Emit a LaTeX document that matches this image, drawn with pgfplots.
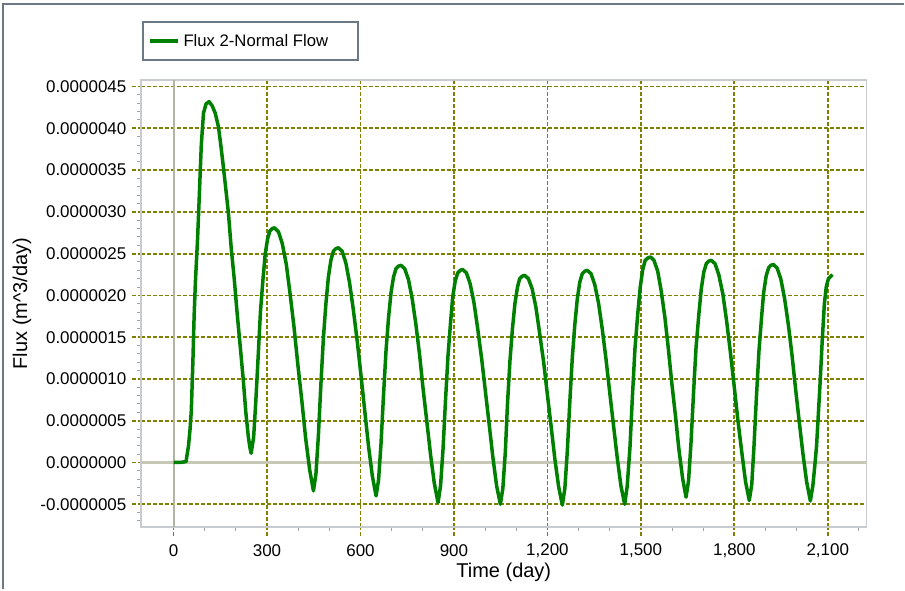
\documentclass[border=0pt]{standalone}
\usepackage{fontspec}
\setmainfont{Liberation Sans}
\usepackage{pgfplots}
\pgfplotsset{compat=1.18}
\usepackage{pgfplotstable}

\definecolor{fluxgreen}{RGB}{0,128,0}
\definecolor{gridolive}{RGB}{128,128,0}
\definecolor{framegray}{RGB}{108,120,132}
\definecolor{axisgray}{RGB}{200,204,208}
\definecolor{zerogray}{RGB}{200,200,182}

% time (day), flux (1e-6 m^3/day)
\pgfplotstableread{
t f
0 0
20 0
40 0.01
48 0.2
53 0.4
57 0.62
62 1.2
66 1.75
70 2.15
77 2.67
82 3.13
89 3.8
96 4.18
104 4.29
114 4.32
124 4.27
134 4.18
144 4.02
151 3.82
158 3.6
167 3.3
176 2.99
185 2.57
195 2.19
204 1.79
214 1.39
224 0.98
232 0.6
240 0.31
245 0.18
249 0.11
257 0.30
264 0.73
272 1.30
279 1.81
287 2.19
294 2.49
302 2.68
309 2.77
317 2.80
324 2.81
337 2.76
349 2.62
362 2.37
374 2.02
387 1.61
399 1.17
412 0.73
424 0.29
437 -0.09
449 -0.34
457 -0.14
465 0.33
473 0.94
481 1.49
489 1.90
497 2.22
505 2.42
513 2.53
521 2.56
529 2.57
541 2.53
553 2.39
565 2.15
577 1.83
590 1.44
602 1.03
614 0.61
626 0.19
638 -0.16
650 -0.40
658 -0.21
666 0.23
674 0.81
682 1.34
690 1.73
698 2.03
706 2.22
714 2.32
722 2.35
730 2.36
742 2.32
754 2.19
766 1.96
778 1.65
790 1.28
801 0.88
813 0.49
825 0.09
837 -0.25
849 -0.48
857 -0.28
865 0.16
873 0.75
881 1.28
889 1.67
896 1.98
904 2.17
912 2.27
920 2.30
928 2.31
940 2.27
952 2.14
964 1.92
976 1.61
989 1.24
1001 0.85
1013 0.46
1025 0.06
1037 -0.28
1049 -0.50
1057 -0.31
1065 0.13
1072 0.71
1080 1.23
1088 1.61
1096 1.91
1104 2.10
1111 2.20
1119 2.23
1127 2.24
1139 2.20
1151 2.08
1163 1.86
1175 1.55
1188 1.20
1200 0.81
1212 0.43
1224 0.04
1236 -0.29
1248 -0.51
1256 -0.31
1264 0.14
1272 0.73
1280 1.26
1288 1.65
1296 1.96
1304 2.16
1312 2.26
1320 2.29
1328 2.30
1340 2.26
1352 2.13
1364 1.91
1376 1.60
1388 1.24
1400 0.84
1412 0.45
1424 0.06
1436 -0.28
1448 -0.50
1456 -0.29
1465 0.18
1473 0.80
1481 1.36
1490 1.78
1498 2.10
1506 2.31
1514 2.42
1523 2.45
1531 2.46
1542 2.42
1554 2.29
1565 2.06
1577 1.74
1588 1.37
1599 0.96
1611 0.56
1622 0.16
1634 -0.19
1645 -0.415
1653 -0.22
1661 0.24
1669 0.83
1677 1.37
1686 1.77
1694 2.08
1702 2.28
1710 2.38
1718 2.41
1726 2.42
1738 2.38
1750 2.25
1763 2.02
1775 1.70
1787 1.33
1799 0.93
1811 0.52
1824 0.12
1836 -0.23
1848 -0.455
1856 -0.26
1863 0.19
1871 0.79
1879 1.33
1887 1.72
1894 2.03
1902 2.23
1910 2.33
1917 2.36
1925 2.37
1937 2.33
1949 2.20
1961 1.97
1973 1.66
1985 1.29
1996 0.90
2008 0.50
2020 0.11
2032 -0.23
2044 -0.46
2052 -0.28
2058 -0.05
2064 0.2
2070 0.6
2076 1.0
2082 1.45
2089 1.9
2095 2.1
2102 2.2
2115 2.25
}\fluxdata

\begin{document}
\begin{tikzpicture}
\begin{axis}[
    name=ax,
    scale only axis,
    width=726.7pt, height=447.7pt,
    xmin=-105, xmax=2225,
    ymin=-7.74e-7, ymax=4.58e-6,
    xtick={0,300,600,900,1200,1500,1800,2100},
    minor xtick={100,200,400,500,700,800,1000,1100,1300,1400,1600,1700,1900,2000,2200},
    ytick={-5e-7,0,5e-7,1e-6,1.5e-6,2e-6,2.5e-6,3e-6,3.5e-6,4e-6,4.5e-6},
    minor ytick={-7e-7,-6e-7,-4e-7,-3e-7,-2e-7,-1e-7,1e-7,2e-7,3e-7,4e-7,6e-7,7e-7,8e-7,9e-7,
      1.1e-6,1.2e-6,1.3e-6,1.4e-6,1.6e-6,1.7e-6,1.8e-6,1.9e-6,2.1e-6,2.2e-6,2.3e-6,2.4e-6,
      2.6e-6,2.7e-6,2.8e-6,2.9e-6,3.1e-6,3.2e-6,3.3e-6,3.4e-6,3.6e-6,3.7e-6,3.8e-6,3.9e-6,
      4.1e-6,4.2e-6,4.3e-6,4.4e-6},
    scaled y ticks=false,
    xtick pos=bottom, ytick pos=left,
    tick align=outside,
    major tick length=9pt, minor tick length=3.5pt,
    major tick style={gridolive, dash pattern=on 4pt off 2pt, line width=1.8pt},
    minor tick style={axisgray!80!black, line width=1pt},
    grid=major,
    major grid style={gridolive, dash pattern=on 4pt off 2pt, line width=1.8pt},
    axis line style={axisgray, line width=1.5pt},
    /pgf/number format/assume math mode=true,
    tick label style={font=\fontsize{17}{20}\selectfont},
    xticklabel style={anchor=center, yshift=-14.3pt, /pgf/number format/1000 sep={,}},
    yticklabel style={anchor=east, inner sep=0pt, xshift=-5.3pt,
      /pgf/number format/.cd, fixed, fixed zerofill, precision=7},
    label style={font=\fontsize{20}{24}\selectfont},
    xlabel={Time (day)},
    ylabel={Flux (m\textasciicircum 3/day)},
    xlabel style={at={(axis description cs:0.5,-0.1)}, anchor=center},
    ylabel style={at={(axis description cs:-0.1638,0.5)}, anchor=center},
    legend style={at={(axis description cs:0.0014,1.1318)}, anchor=north west,
      draw=framegray, line width=2pt, inner sep=0pt, column sep=0pt,
      font=\fontsize{16.7}{20}\selectfont, nodes={inner sep=0pt}},
    legend image code/.code={
      \path[draw=none, fill=none] (0pt,-19.2pt) rectangle (40.7pt,19.2pt);
      \draw[#1, line width=4pt] (7.3pt,0pt) -- (34.7pt,0pt);
    },
]
\draw[zerogray, line width=2.5pt] ({rel axis cs:0,0}|-{axis cs:0,0}) -- ({rel axis cs:1,0}|-{axis cs:0,0});
\draw[zerogray!90!black, line width=2pt] ({axis cs:0,0}|-{rel axis cs:0,0}) -- ({axis cs:0,0}|-{rel axis cs:0,1});
\addplot[fluxgreen, line width=3.5pt, line join=round] table[x=t, y expr=\thisrow{f}*1e-6] {\fluxdata};
\addlegendentry{\makebox[175pt][l]{Flux 2-Normal Flow}}
\end{axis}
\draw[framegray, line width=2pt] ([shift={(-137.7pt,-62.3pt)}]ax.south west) -- ++(0,585.7pt) -- ++(901.7pt,0);
\path ([shift={(-141pt,-62.3pt)}]ax.south west) rectangle ++(905pt,590pt);
\end{tikzpicture}
\end{document}
